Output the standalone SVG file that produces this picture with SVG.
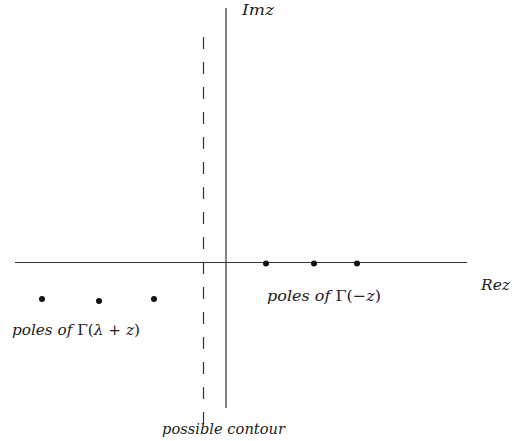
<svg xmlns="http://www.w3.org/2000/svg" width="514" height="441" viewBox="0 0 514 441">
<style>
.ax{stroke:#333;stroke-width:1.2;fill:none}
.dash{stroke:#333;stroke-width:1.2;fill:none;stroke-dasharray:12 13}
.pt{fill:#111}
text{font-family:"DejaVu Serif","Liberation Serif",serif;font-style:italic;font-size:15.5px;fill:#222}
</style>
<rect width="514" height="441" fill="#fff"/>
<g id="connectors">
<line class="ax" x1="15" y1="262.5" x2="467" y2="262.5"/>
<line class="ax" x1="226" y1="8" x2="226" y2="408"/>
<line class="dash" x1="203.5" y1="37" x2="203.5" y2="423"/>
</g>
<g id="right-poles">
<circle class="pt" cx="266" cy="263.5" r="3"/>
<circle class="pt" cx="314" cy="263.5" r="3"/>
<circle class="pt" cx="357" cy="263.5" r="3"/>
</g>
<g id="left-poles">
<circle class="pt" cx="42" cy="299" r="3"/>
<circle class="pt" cx="99" cy="301" r="3"/>
<circle class="pt" cx="154" cy="299" r="3"/>
</g>
<g id="labels">
<text x="242" y="15" textLength="32" lengthAdjust="spacingAndGlyphs">Imz</text>
<text x="481" y="290" textLength="29" lengthAdjust="spacingAndGlyphs">Rez</text>
<text x="267" y="301" textLength="114" lengthAdjust="spacingAndGlyphs">poles of <tspan font-style="normal">Γ(−</tspan>z<tspan font-style="normal">)</tspan></text>
<text x="12" y="335" textLength="128" lengthAdjust="spacingAndGlyphs">poles of <tspan font-style="normal">Γ(</tspan>λ<tspan font-style="normal"> + </tspan>z<tspan font-style="normal">)</tspan></text>
<text x="162" y="434" textLength="123" lengthAdjust="spacingAndGlyphs">possible contour</text>
</g>
</svg>
